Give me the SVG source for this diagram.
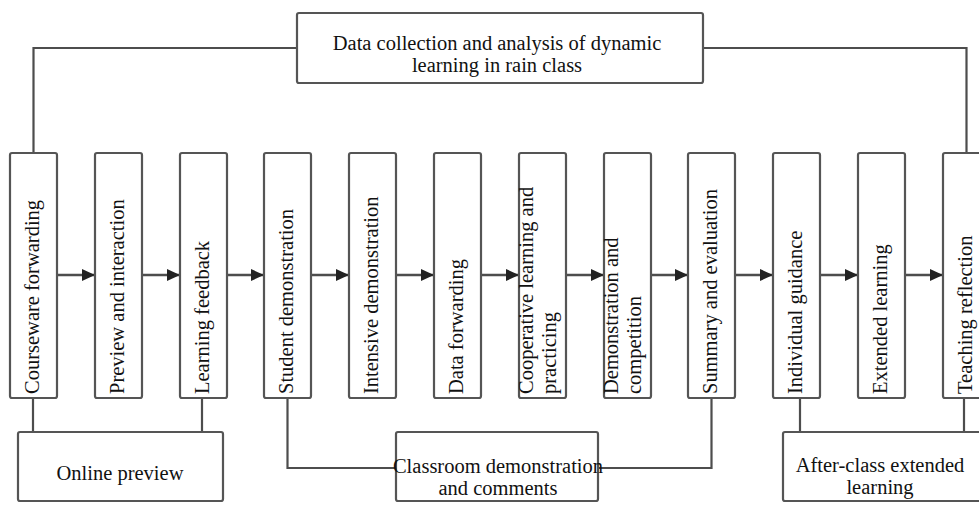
<svg xmlns="http://www.w3.org/2000/svg" width="979" height="505" viewBox="0 0 979 505">
<style>
.box{fill:#fff;stroke:#555;stroke-width:2.2}
.ln{fill:none;stroke:#4d4d4d;stroke-width:2.2}
.ar{fill:none;stroke:#4d4d4d;stroke-width:2.6}
.t{font-family:"Liberation Serif","Times New Roman",serif;font-size:20.5px;fill:#111}
.c{text-anchor:middle}
</style>
<defs>
<marker id="ah" markerUnits="userSpaceOnUse" markerWidth="14" markerHeight="12" refX="13" refY="6" orient="auto">
<path d="M0,0 L13,6 L0,12 Z" fill="#222"/>
</marker>
</defs>
<rect width="979" height="505" fill="#fff"/>
<g id="connectors">
<path class="ln" d="M33.5,153 V48 H297"/>
<path class="ln" d="M703,48 H966.5 V153"/>
<path class="ar" d="M57,275 H95" marker-end="url(#ah)"/>
<path class="ar" d="M142,275 H180" marker-end="url(#ah)"/>
<path class="ar" d="M227,275 H264" marker-end="url(#ah)"/>
<path class="ar" d="M311,275 H349" marker-end="url(#ah)"/>
<path class="ar" d="M396,275 H434" marker-end="url(#ah)"/>
<path class="ar" d="M481,275 H519" marker-end="url(#ah)"/>
<path class="ar" d="M566,275 H604" marker-end="url(#ah)"/>
<path class="ar" d="M651,275 H688" marker-end="url(#ah)"/>
<path class="ar" d="M735,275 H773" marker-end="url(#ah)"/>
<path class="ar" d="M820,275 H858" marker-end="url(#ah)"/>
<path class="ar" d="M905,275 H943" marker-end="url(#ah)"/>
<path class="ln" d="M33,398 V432"/>
<path class="ln" d="M202,398 V432"/>
<path class="ln" d="M287.5,398 V468 H396"/>
<path class="ln" d="M711.5,398 V468 H598"/>
<path class="ln" d="M800,398 V432"/>
<path class="ln" d="M964,398 V432"/>
</g>
<g id="top">
<rect class="box" x="297" y="13" width="406" height="70" rx="2"/>
<text class="t c" x="497" y="50">Data collection and analysis of dynamic</text>
<text class="t c" x="497" y="72">learning in rain class</text>
</g>
<g id="n1"><rect class="box" x="10" y="153" width="47" height="245" rx="2"/><text class="t" transform="translate(38.5,394) rotate(-90)">Courseware forwarding</text></g>
<g id="n2"><rect class="box" x="95" y="153" width="47" height="245" rx="2"/><text class="t" transform="translate(123.5,394) rotate(-90)">Preview and interaction</text></g>
<g id="n3"><rect class="box" x="180" y="153" width="47" height="245" rx="2"/><text class="t" transform="translate(208.5,394) rotate(-90)">Learning feedback</text></g>
<g id="n4"><rect class="box" x="264" y="153" width="47" height="245" rx="2"/><text class="t" transform="translate(292.5,394) rotate(-90)">Student demonstration</text></g>
<g id="n5"><rect class="box" x="349" y="153" width="47" height="245" rx="2"/><text class="t" transform="translate(377.5,394) rotate(-90)">Intensive demonstration</text></g>
<g id="n6"><rect class="box" x="434" y="153" width="47" height="245" rx="2"/><text class="t" transform="translate(462.5,394) rotate(-90)">Data forwarding</text></g>
<g id="n7"><rect class="box" x="519" y="153" width="47" height="245" rx="2"/><text class="t" transform="translate(533,394) rotate(-90)"><tspan x="0" y="0">Cooperative learning and</tspan><tspan x="0" y="23">practicing</tspan></text></g>
<g id="n8"><rect class="box" x="604" y="153" width="47" height="245" rx="2"/><text class="t" transform="translate(618,394) rotate(-90)"><tspan x="0" y="0">Demonstration and</tspan><tspan x="0" y="23">competition</tspan></text></g>
<g id="n9"><rect class="box" x="688" y="153" width="47" height="245" rx="2"/><text class="t" transform="translate(716.5,394) rotate(-90)">Summary and evaluation</text></g>
<g id="n10"><rect class="box" x="773" y="153" width="47" height="245" rx="2"/><text class="t" transform="translate(801.5,394) rotate(-90)">Individual guidance</text></g>
<g id="n11"><rect class="box" x="858" y="153" width="47" height="245" rx="2"/><text class="t" transform="translate(886.5,394) rotate(-90)">Extended learning</text></g>
<g id="n12"><rect class="box" x="943" y="153" width="47" height="245" rx="2"/><text class="t" transform="translate(971.5,394) rotate(-90)">Teaching reflection</text></g>
<g id="b1"><rect class="box" x="18" y="432" width="205" height="69" rx="2"/><text class="t c" x="120" y="480">Online preview</text></g>
<g id="b2"><rect class="box" x="396" y="432" width="202" height="69" rx="2"/><text class="t c" x="498" y="473">Classroom demonstration</text><text class="t c" x="498" y="495">and comments</text></g>
<g id="b3"><rect class="box" x="783" y="432" width="200" height="69" rx="2"/><text class="t c" x="880" y="472">After-class extended</text><text class="t c" x="880" y="494">learning</text></g>
</svg>
